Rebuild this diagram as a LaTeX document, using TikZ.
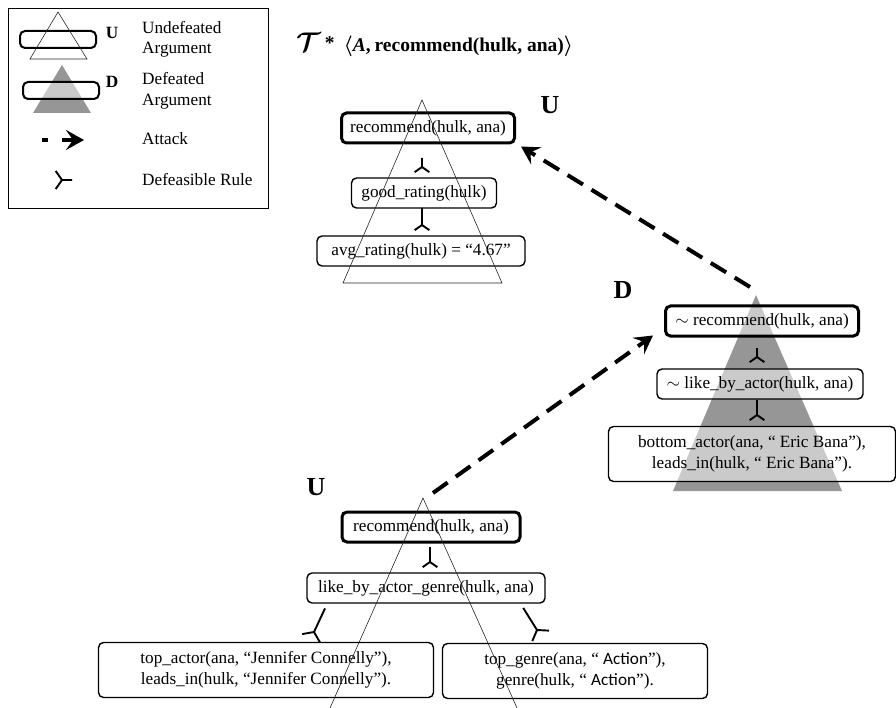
\documentclass[tikz,border=0pt]{standalone}
\usepackage{fontspec}
\setmainfont{Liberation Serif}
\newfontfamily\genrefont{Carlito}
\usepackage{amsmath}
\usetikzlibrary{arrows.meta, positioning, calc}
\definecolor{defgray}{RGB}{150,150,150}
\newcommand{\argfont}{\fontsize{17.2}{20.5}\selectfont}
\tikzset{
    argbox/.style={rectangle, draw=black, fill=white, fill opacity=0.5, text opacity=1, rounded corners=5pt, line width=1.4pt, inner xsep=4pt, inner ysep=2pt, minimum height=30pt, align=center, font=\argfont},
    argconc/.style={argbox, line width=3pt},
    argtri/.style={draw=black!85, line width=0.6pt},
    argdef/.style={fill=defgray, draw=none},
    argattack/.style={-{Stealth[length=18pt, width=20pt, inset=7pt]}, line width=4pt, dash pattern=on 18pt off 10pt},
    arglabel/.style={font=\fontsize{26}{30}\selectfont\bfseries, inner sep=0pt},
    legtext/.style={font=\argfont, align=left, anchor=west, inner sep=0pt},
    rulesym/.style={line width=1.9pt},
    pics/drule/.style n args={3}{code={\draw[rulesym] (0,0) -- (#1:#2) (0,0) -- (#1+125:#3) (0,0) -- (#1-125:#3);}}
}

\begin{document}
\begin{tikzpicture}[x=1pt, y=-1pt]
\useasboundingbox (0,0) rectangle (896,708);

% legend
\draw[line width=0.8pt] (8,8) rectangle (268,208);
\node[argbox, minimum width=76pt, minimum height=17pt, inner sep=0pt, line width=2pt] (legU) at (58,39.5) {};
\draw[argtri] (58,12) -- (87,59) -- (30,59) -- cycle;
\node[font=\argfont\bfseries, inner sep=0pt] (legUl) at (112,33) {U};
\node[legtext] (legUt) at (142,39.5) {Undefeated\\Argument};
\fill[argdef] (62,65) -- (91,113) -- (33,113) -- cycle;
\node[argbox, minimum width=76pt, minimum height=17pt, inner sep=0pt, line width=2pt] (legD) at (61,90.5) {};
\node[font=\argfont\bfseries, inner sep=0pt] (legDl) at (112,82) {D};
\node[legtext] (legDt) at (142,91) {Defeated\\Argument};
\coordinate (legA1) at (42,140);
\coordinate (legA2) at (84,140);
\draw[argattack, dash pattern=on 6pt off 14pt on 40pt] (legA1) -- (legA2);
\node[legtext] (legAt) at (142,139) {Attack};
\pic at (62,180) {drule={0}{10}{11}};
\node[legtext] (legRt) at (142,180) {Defeasible Rule};

% title
\node[anchor=west, font=\fontsize{19.5}{22}\selectfont\bfseries, inner sep=0pt] (title) at (296,45)
  {{\boldmath$\scalebox{1.3}{$\mathcal{T}$}\,\raisebox{2pt}{*}$}\hspace{9pt}{\boldmath$\langle$}\textit{A},\hspace{4pt}recommend(hulk, ana){\boldmath$\rangle$}};

% undefeated argument (top)
\coordinate (uApex) at (422,100);
\node[argconc, minimum width=173pt] (r1) at (428,128) {recommend(hulk, ana)};
\node[argbox, minimum width=145pt] (g1) at (424,193) {good\_rating(hulk)};
\node[argbox, minimum width=208pt] (a1) at (421,251) {avg\_rating(hulk) = “4.67”};
\draw[argtri] (uApex) -- ++(80,183) -- ++(-159,0) -- cycle;
\pic at (422,167) {drule={-90}{9}{9}};
\pic at (422,225) {drule={-90}{17}{9}};
\node[arglabel] (uLab1) at (550,105) {U};

% defeated argument (right)
\coordinate (dApex) at (756,295);
\fill[argdef] (dApex) -- (842,491) -- (673,491) -- cycle;
\node[argconc, minimum width=193pt] (r2) at (762,321) {$\sim$ recommend(hulk, ana)};
\node[argbox, minimum width=206pt] (l2) at (760,384) {$\sim$ like\_by\_actor(hulk, ana)};
\node[argbox, minimum width=287pt, minimum height=55pt] (b2) at (752,454) {bottom\_actor(ana, “ Eric Bana”),\\leads\_in(hulk, “ Eric Bana”).};
\pic at (757,357) {drule={-90}{9}{9}};
\pic at (757,415) {drule={-90}{15}{9}};
\node[arglabel] (dLab) at (623,290) {D};

% undefeated argument (bottom)
\coordinate (bApex) at (423,498);
\node[argconc, minimum width=178pt] (r3) at (431,527) {recommend(hulk, ana)};
\node[argbox, minimum width=238pt] (l3) at (426,588) {like\_by\_actor\_genre(hulk, ana)};
\node[argbox, minimum width=335pt, minimum height=55pt] (t3) at (266,670) {top\_actor(ana, “Jennifer Connelly”),\\leads\_in(hulk, “Jennifer Connelly”).};
\node[argbox, minimum width=265pt, minimum height=55pt] (t4) at (575,671) {top\_genre(ana, “ {\genrefont Action}”),\\genre(hulk, “ {\genrefont Action}”).};
\draw[argtri] (330,708) -- (bApex) -- (517,708);
\pic at (430,562) {drule={-90}{15}{9}};
\pic at (314,632) {drule={-65}{26}{12}};
\pic at (537,630) {drule={-122}{26}{12}};
\node[arglabel] (uLab2) at (316,487) {U};

% attacks
\coordinate (dTail) at (750,287);
\coordinate (bTail) at (433,493);
\draw[argattack] (dTail) -- ([shift={(5,2)}]r1.south east);
\draw[argattack] (bTail) -- ([shift={(-11,-2)}]r2.south west);

\end{tikzpicture}
\end{document}
